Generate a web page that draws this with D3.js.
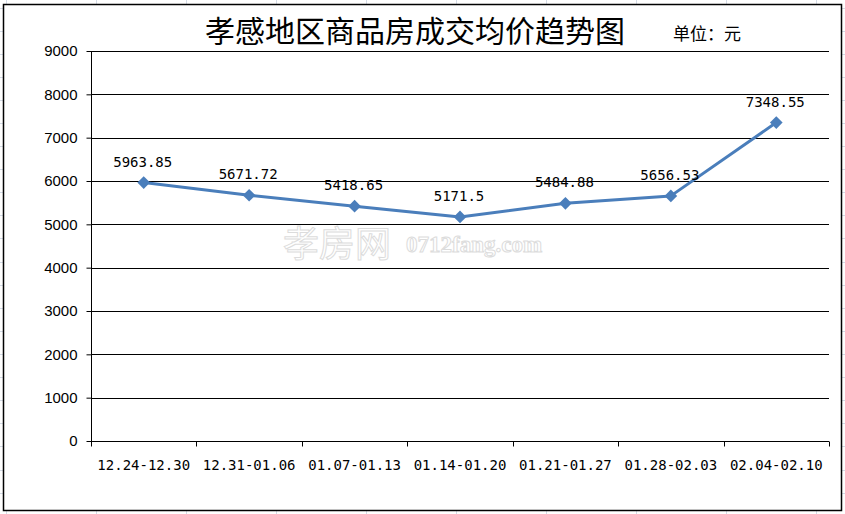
<!DOCTYPE html>
<html><head><meta charset="utf-8">
<script src="https://cdn.jsdelivr.net/npm/d3@7"></script>
<style>html,body{margin:0;padding:0;background:#fff;}svg{display:block;}</style>
</head><body>
<svg id="c" width="845" height="514"></svg>
<script>
const categories = ["12.24-12.30","12.31-01.06","01.07-01.13","01.14-01.20","01.21-01.27","01.28-02.03","02.04-02.10"];
const values = [5963.85, 5671.72, 5418.65, 5171.5, 5484.88, 5656.53, 7348.55];
const valueLabels = ["5963.85","5671.72","5418.65","5171.5","5484.88","5656.53","7348.55"];
const yTicks = [0,1000,2000,3000,4000,5000,6000,7000,8000,9000];
const title = "孝感地区商品房成交均价趋势图";
const unit = "单位：元";

const svg = d3.select("#c");
const W = 845, H = 514;

// spreadsheet background grid
const bg = svg.append("g").attr("stroke","#d4dbe6").attr("stroke-width",1);
for (let y = 7.5; y < H; y += 23.1) bg.append("line").attr("x1",0).attr("x2",W).attr("y1",Math.round(y)+0.5).attr("y2",Math.round(y)+0.5);
for (let x = 6; x < W; x += 90) bg.append("line").attr("y1",0).attr("y2",H).attr("x1",x+0.5).attr("x2",x+0.5);

// chart frame
svg.append("rect").attr("x",3.5).attr("y",4.5).attr("width",838).attr("height",506)
  .attr("fill","#fff").attr("stroke","#000").attr("stroke-width",1.5);

const m = {l:91, r:829, t:51, b:441};
const x = d3.scaleBand().domain(categories).range([m.l, m.r]).padding(0);
const y = d3.scaleLinear().domain([0,9000]).range([m.b, m.t]);

// gridlines
svg.append("g").selectAll("line").data(yTicks.filter(d=>d>0)).join("line")
  .attr("x1",m.l).attr("x2",m.r).attr("y1",d=>Math.round(y(d))+0.5).attr("y2",d=>Math.round(y(d))+0.5)
  .attr("stroke","#000").attr("stroke-width",1);

// y axis
const ya = svg.append("g").attr("transform",`translate(${m.l+0.5},0)`)
  .call(d3.axisLeft(y).tickValues(yTicks).tickSize(5).tickPadding(9).tickFormat(d3.format("d")));
ya.select(".domain").attr("stroke","#000").attr("d",`M0,${m.t}V${m.b}`);
ya.selectAll(".tick line").attr("stroke","#000");
ya.selectAll("text").attr("font-family","Liberation Sans, Arial, sans-serif").attr("font-size",15).attr("fill","#000");

// x axis
const xa = svg.append("g").attr("transform",`translate(0,${m.b+0.5})`)
  .call(d3.axisBottom(x).tickSize(0).tickPadding(19));
xa.select(".domain").attr("stroke","#000").attr("d",`M${m.l},0H${m.r}`);
xa.selectAll("text").attr("font-family","DejaVu Sans Mono, monospace").attr("font-size",14).attr("fill","#000");
const bounds = categories.map(c=>x(c)).concat([m.r]);
xa.append("g").selectAll("line").data(bounds).join("line")
  .attr("x1",d=>Math.round(d)+0.5).attr("x2",d=>Math.round(d)+0.5).attr("y1",0).attr("y2",5).attr("stroke","#000");

// watermark
svg.append("text").attr("x",283).attr("y",257).text("孝房网")
  .attr("font-family","Noto Sans CJK SC").attr("font-size",36).attr("fill","none")
  .attr("stroke","#dcdcdc").attr("stroke-width",1);
svg.append("text").attr("x",406).attr("y",252).text("0712fang.com")
  .attr("font-family","Liberation Serif, serif").attr("font-size",23).attr("font-weight","bold").attr("fill","none")
  .attr("stroke","#dcdcdc").attr("stroke-width",1);

// line
const cx = d => x(d) + x.bandwidth()/2;
const pts = categories.map((c,i)=>[cx(c), y(values[i])]);
svg.append("path").attr("d", d3.line()(pts)).attr("fill","none")
  .attr("stroke","#4a7ebb").attr("stroke-width",3).attr("stroke-linejoin","round");
svg.append("g").selectAll("path").data(pts).join("path")
  .attr("d", d3.symbol().type(d3.symbolSquare).size(80))
  .attr("transform", d=>`translate(${d[0]},${d[1]}) rotate(45)`).attr("fill","#4a7ebb");

// data labels
svg.append("g").selectAll("text").data(categories).join("text")
  .attr("x", c=>cx(c)-1).attr("y",(c,i)=>y(values[i])-16)
  .attr("text-anchor","middle").attr("font-family","DejaVu Sans Mono, monospace").attr("font-size",14)
  .attr("fill","#000").text((c,i)=>valueLabels[i]);

// title
svg.append("text").attr("x",415).attr("y",42).attr("text-anchor","middle")
  .attr("font-family","Noto Sans CJK SC").attr("font-size",30).attr("fill","#000").text(title);
svg.append("text").attr("x",673).attr("y",40)
  .attr("font-family","Noto Sans CJK SC").attr("font-size",17).attr("fill","#000").text(unit);
</script>
</body></html>
